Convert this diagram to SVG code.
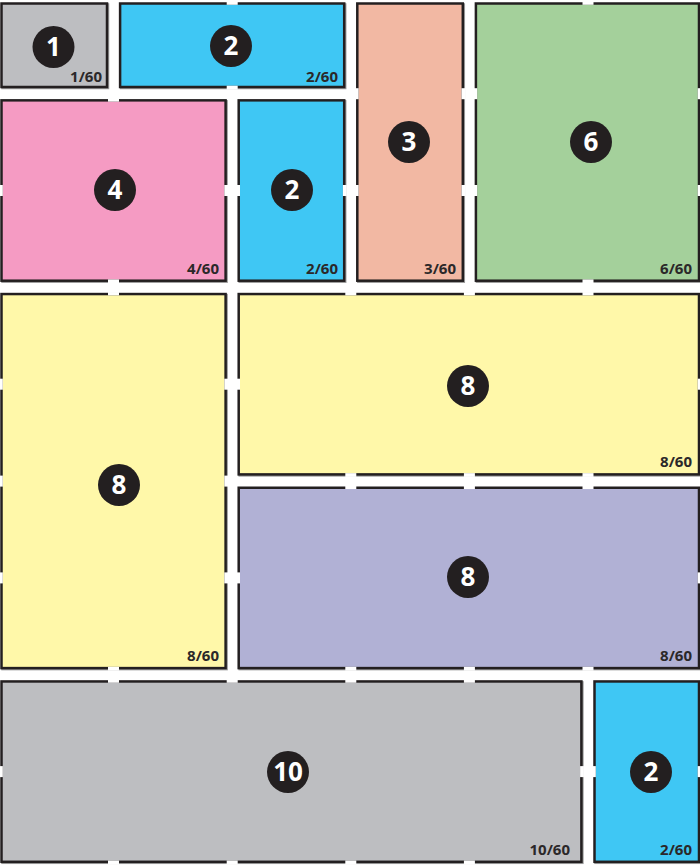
<svg xmlns="http://www.w3.org/2000/svg" width="700" height="867" viewBox="0 0 700 867">
<style>
.sh{fill:none;stroke:#9b9b9b;stroke-width:2.5}
.b{stroke:#231f20;stroke-width:2.5}
.n{fill:#ffffff}
.c{fill:#231f20}
.num{font-family:"Open Sans","Liberation Sans",sans-serif;font-weight:700;font-size:26px;fill:#ffffff;text-anchor:middle}
.fr{font-family:"Open Sans","Liberation Sans",sans-serif;font-weight:700;font-size:15px;fill:#2b2829;text-anchor:end}
.gray{fill:#bdbec1}.blue{fill:#3fc7f4}.salmon{fill:#f2b8a3}.green{fill:#a4d09b}.pink{fill:#f59bc3}.yellow{fill:#fff8a9}.purple{fill:#b1b1d5}
</style>
<rect width="700" height="867" fill="#ffffff"/>

<g id="box1">
<rect class="sh" x="2.5" y="4.5" width="105.5" height="83.5"/>
<rect class="b gray" x="1.5" y="3.5" width="105.5" height="83.5"/>
<circle class="c" cx="53.5" cy="47" r="21"/>
<text class="num" x="53.5" y="56">1</text>
<text class="fr" x="102" y="82">1/60</text>
</g>

<g id="box2a">
<rect class="sh" x="121.1" y="4.5" width="224.1" height="83.5"/>
<rect class="b blue" x="120.1" y="3.5" width="224.1" height="83.5"/>
<rect class="n" x="226.7" y="1.5" width="11" height="3.3"/>
<rect class="n" x="226.7" y="85.7" width="11" height="3.8"/>
<circle class="c" cx="231" cy="46" r="21"/>
<text class="num" x="231" y="55">2</text>
<text class="fr" x="338" y="82">2/60</text>
</g>

<g id="box3">
<rect class="sh" x="358.3" y="4.5" width="105.5" height="277.2"/>
<rect class="b salmon" x="357.3" y="3.5" width="105.5" height="277.2"/>
<rect class="n" x="355.3" y="88.2" width="3.3" height="11"/>
<rect class="n" x="355.3" y="185" width="3.3" height="11"/>
<rect class="n" x="461.5" y="88.2" width="3.8" height="11"/>
<rect class="n" x="461.5" y="185" width="3.8" height="11"/>
<circle class="c" cx="409" cy="142" r="21"/>
<text class="num" x="409" y="151">3</text>
<text class="fr" x="456" y="274">3/60</text>
</g>

<g id="box6">
<rect class="sh" x="476.9" y="4.5" width="223.1" height="277.2"/>
<rect class="b green" x="475.9" y="3.5" width="223.1" height="277.2"/>
<rect class="n" x="582.5" y="1.5" width="11" height="3.3"/>
<rect class="n" x="582.5" y="279.4" width="11" height="3.8"/>
<rect class="n" x="473.9" y="88.2" width="3.3" height="11"/>
<rect class="n" x="473.9" y="185" width="3.3" height="11"/>
<rect class="n" x="697.7" y="88.2" width="3.8" height="11"/>
<rect class="n" x="697.7" y="185" width="3.8" height="11"/>
<circle class="c" cx="591" cy="142" r="21"/>
<text class="num" x="591" y="151">6</text>
<text class="fr" x="692" y="274">6/60</text>
</g>

<g id="box4">
<rect class="sh" x="2.5" y="101.35" width="224.1" height="180.35"/>
<rect class="b pink" x="1.5" y="100.35" width="224.1" height="180.35"/>
<rect class="n" x="108" y="98.35" width="11" height="3.3"/>
<rect class="n" x="108" y="279.4" width="11" height="3.8"/>
<rect class="n" x="-0.5" y="185" width="3.3" height="11"/>
<rect class="n" x="224.3" y="185" width="3.8" height="11"/>
<circle class="c" cx="115" cy="190" r="21"/>
<text class="num" x="115" y="199">4</text>
<text class="fr" x="219" y="274">4/60</text>
</g>

<g id="box2b">
<rect class="sh" x="239.7" y="101.35" width="105.5" height="180.35"/>
<rect class="b blue" x="238.7" y="100.35" width="105.5" height="180.35"/>
<rect class="n" x="236.7" y="185" width="3.3" height="11"/>
<rect class="n" x="342.9" y="185" width="3.8" height="11"/>
<circle class="c" cx="292" cy="190" r="21"/>
<text class="num" x="292" y="199">2</text>
<text class="fr" x="338" y="274">2/60</text>
</g>

<g id="box8a">
<rect class="sh" x="2.5" y="295.05" width="224.1" height="374.05"/>
<rect class="b yellow" x="1.5" y="294.05" width="224.1" height="374.05"/>
<rect class="n" x="108" y="292.05" width="11" height="3.3"/>
<rect class="n" x="108" y="666.8" width="11" height="3.8"/>
<rect class="n" x="-0.5" y="378.7" width="3.3" height="11"/>
<rect class="n" x="-0.5" y="475.6" width="3.3" height="11"/>
<rect class="n" x="-0.5" y="572.4" width="3.3" height="11"/>
<rect class="n" x="224.3" y="378.7" width="3.8" height="11"/>
<rect class="n" x="224.3" y="475.6" width="3.8" height="11"/>
<rect class="n" x="224.3" y="572.4" width="3.8" height="11"/>
<circle class="c" cx="119" cy="485" r="21"/>
<text class="num" x="119" y="494">8</text>
<text class="fr" x="219" y="661">8/60</text>
</g>

<g id="box8b">
<rect class="sh" x="239.7" y="295.05" width="460.3" height="180.35"/>
<rect class="b yellow" x="238.7" y="294.05" width="460.3" height="180.35"/>
<rect class="n" x="345.3" y="292.05" width="11" height="3.3"/>
<rect class="n" x="463.9" y="292.05" width="11" height="3.3"/>
<rect class="n" x="582.5" y="292.05" width="11" height="3.3"/>
<rect class="n" x="345.3" y="473.1" width="11" height="3.8"/>
<rect class="n" x="463.9" y="473.1" width="11" height="3.8"/>
<rect class="n" x="582.5" y="473.1" width="11" height="3.8"/>
<rect class="n" x="236.7" y="378.7" width="3.3" height="11"/>
<rect class="n" x="697.7" y="378.7" width="3.8" height="11"/>
<circle class="c" cx="468" cy="386" r="21"/>
<text class="num" x="468" y="395">8</text>
<text class="fr" x="692" y="467">8/60</text>
</g>

<g id="box8c">
<rect class="sh" x="239.7" y="488.75" width="460.3" height="180.35"/>
<rect class="b purple" x="238.7" y="487.75" width="460.3" height="180.35"/>
<rect class="n" x="345.3" y="485.75" width="11" height="3.3"/>
<rect class="n" x="463.9" y="485.75" width="11" height="3.3"/>
<rect class="n" x="582.5" y="485.75" width="11" height="3.3"/>
<rect class="n" x="345.3" y="666.8" width="11" height="3.8"/>
<rect class="n" x="463.9" y="666.8" width="11" height="3.8"/>
<rect class="n" x="582.5" y="666.8" width="11" height="3.8"/>
<rect class="n" x="236.7" y="572.4" width="3.3" height="11"/>
<rect class="n" x="697.7" y="572.4" width="3.8" height="11"/>
<circle class="c" cx="468" cy="577" r="21"/>
<text class="num" x="468" y="586">8</text>
<text class="fr" x="692" y="661">8/60</text>
</g>

<g id="box10">
<rect class="sh" x="2.5" y="682.45" width="579.9" height="180.35"/>
<rect class="b gray" x="1.5" y="681.45" width="579.9" height="180.35"/>
<rect class="n" x="108" y="679.45" width="11" height="3.3"/>
<rect class="n" x="226.7" y="679.45" width="11" height="3.3"/>
<rect class="n" x="345.3" y="679.45" width="11" height="3.3"/>
<rect class="n" x="463.9" y="679.45" width="11" height="3.3"/>
<rect class="n" x="108" y="860.5" width="11" height="3.8"/>
<rect class="n" x="226.7" y="860.5" width="11" height="3.8"/>
<rect class="n" x="345.3" y="860.5" width="11" height="3.8"/>
<rect class="n" x="463.9" y="860.5" width="11" height="3.8"/>
<rect class="n" x="-0.5" y="766.1" width="3.3" height="11"/>
<rect class="n" x="580.1" y="766.1" width="3.8" height="11"/>
<circle class="c" cx="288" cy="772" r="21"/>
<text class="num" x="288" y="781">10</text>
<text class="fr" x="570" y="855">10/60</text>
</g>

<g id="box2c">
<rect class="sh" x="595.5" y="682.45" width="104.5" height="180.35"/>
<rect class="b blue" x="594.5" y="681.45" width="104.5" height="180.35"/>
<rect class="n" x="592.5" y="766.1" width="3.3" height="11"/>
<rect class="n" x="697.7" y="766.1" width="3.8" height="11"/>
<circle class="c" cx="651" cy="772" r="21"/>
<text class="num" x="651" y="781">2</text>
<text class="fr" x="692" y="855">2/60</text>
</g>

<g id="connectors"/>
</svg>
